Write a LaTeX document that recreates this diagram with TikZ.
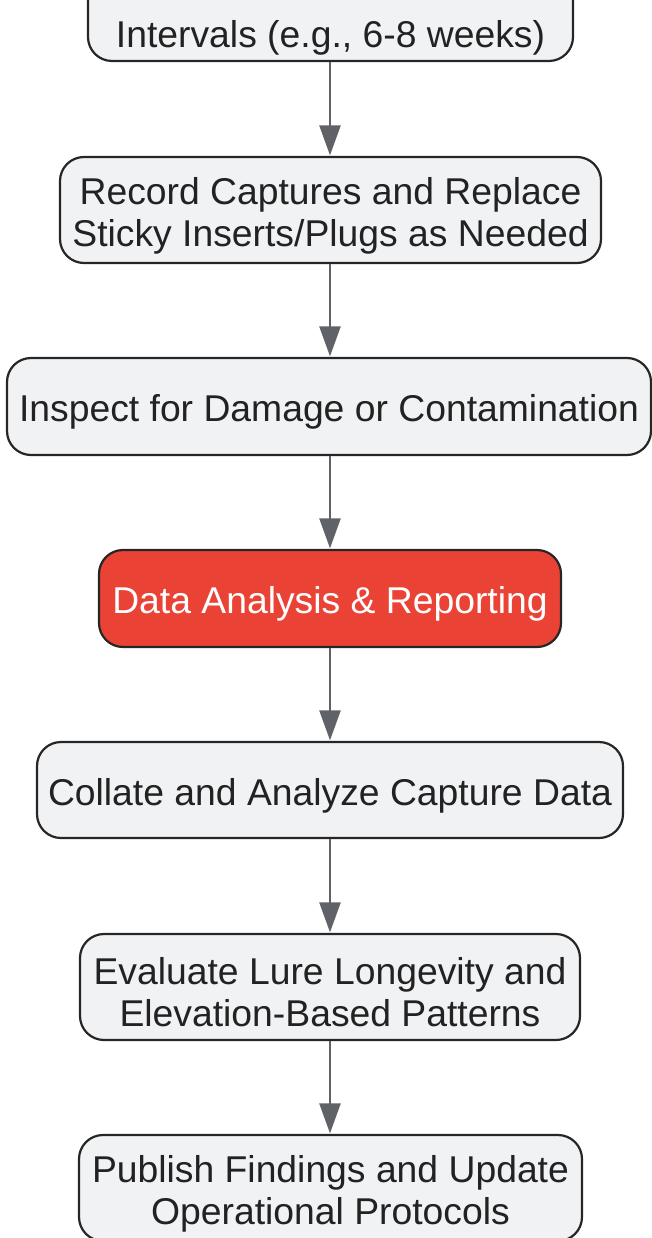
\documentclass[tikz,border=0pt]{standalone}
\usepackage{fontspec}
\setmainfont{Liberation Sans}
\usetikzlibrary{arrows.meta}
\definecolor{boxfill}{HTML}{F1F2F4}
\definecolor{boxline}{HTML}{262626}
\definecolor{txt}{HTML}{222222}
\definecolor{arrowc}{HTML}{5F6368}
\definecolor{redfill}{HTML}{EA4335}
\newcommand\tpad[1][11pt]{\rule{0pt}{\dimexpr 27pt+#1\relax}}
\tikzset{
  stepbox/.style={draw=boxline, line width=2.2pt, fill=boxfill, rounded corners=24pt,
    text=txt, align=center, inner sep=0pt,
    font=\fontsize{37.3}{42}\selectfont},
  redbox/.style={stepbox, fill=redfill, text=white},
  flow/.style={draw=arrowc, line width=2.3pt, -{Triangle[length=30pt,width=21pt]}, shorten >=0.5pt}
}
\begin{document}
\begin{tikzpicture}[x=1pt,y=-1pt]
\clip (0,0) rectangle (652,1238);
\node[stepbox, minimum width=485pt, minimum height=110pt] (n1) at (330.5,6) {\tpad[64pt]Intervals (e.g., 6-8 weeks)};
\node[stepbox, minimum width=541pt, minimum height=106pt] (n2) at (330.5,210) {\tpad Record Captures and Replace\\Sticky Inserts/Plugs as Needed};
\node[stepbox, minimum width=644pt, minimum height=97pt] (n3) at (329,406.5) {\tpad Inspect for Damage or Contamination};
\node[redbox, minimum width=462pt, minimum height=97pt] (n4) at (330,598.5) {\tpad Data Analysis \& Reporting};
\node[stepbox, minimum width=586pt, minimum height=96pt] (n5) at (330,790) {\tpad Collate and Analyze Capture Data};
\node[stepbox, minimum width=500pt, minimum height=106pt] (n6) at (330,987) {\tpad Evaluate Lure Longevity and\\Elevation-Based Patterns};
\node[stepbox, minimum width=503pt, minimum height=106pt] (n7) at (330.5,1188) {\tpad Publish Findings and Update\\Operational Protocols};
\draw[flow] (n1.south -| 330,0) -- (n2.north -| 330,0);
\draw[flow] (n2.south -| 330,0) -- (n3.north -| 330,0);
\draw[flow] (n3.south -| 330,0) -- (n4.north -| 330,0);
\draw[flow] (n4.south -| 330,0) -- (n5.north -| 330,0);
\draw[flow] (n5.south -| 330,0) -- (n6.north -| 330,0);
\draw[flow] (n6.south -| 330,0) -- (n7.north -| 330,0);
\end{tikzpicture}
\end{document}
